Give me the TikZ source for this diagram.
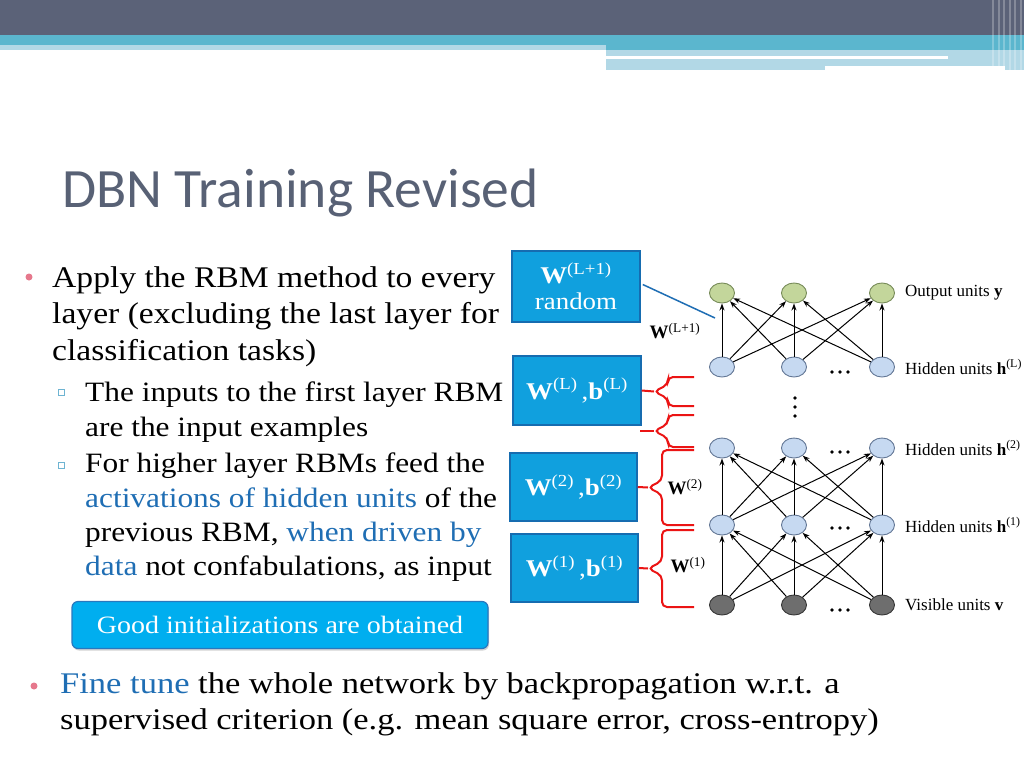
\documentclass[tikz,border=0pt]{standalone}
\usepackage{fontspec}
\setmainfont{Liberation Serif}[FakeStretch=1.12]
\newfontfamily\titlefont{Carlito}
\newfontfamily\netfont{Liberation Serif}
\newfontfamily\finefont{Liberation Serif}[FakeStretch=1.15]
\usetikzlibrary{arrows.meta,shapes.geometric,shadows}

\definecolor{banddark}{RGB}{91,98,120}
\definecolor{bandteal}{RGB}{91,182,206}
\definecolor{bandlight}{RGB}{178,216,230}
\definecolor{titlecol}{RGB}{88,97,117}
\definecolor{bluetext}{RGB}{31,110,180}
\definecolor{bulletpink}{RGB}{230,120,140}
\definecolor{subsq}{RGB}{110,180,210}
\definecolor{boxfill}{RGB}{16,160,222}
\definecolor{boxdraw}{RGB}{22,108,176}
\definecolor{btnfill}{RGB}{0,174,239}
\definecolor{btndraw}{RGB}{40,120,190}
\definecolor{outgreen}{RGB}{195,214,155}
\definecolor{outdraw}{RGB}{120,140,90}
\definecolor{hidfill}{RGB}{198,217,241}
\definecolor{hiddraw}{RGB}{100,120,150}
\definecolor{visfill}{RGB}{110,110,110}
\definecolor{visdraw}{RGB}{55,55,55}
\definecolor{bracered}{RGB}{235,20,20}

% red brace: spine x, top y, bottom y, tip x, tip name
\newcommand{\redbrace}[5]{%
  \coordinate (#5) at (#4,{(#2+#3)/2});
  \draw[bracered,line width=2pt,rounded corners=5pt]
    (694,#2) -- (#1,#2) -- (#1,{(#2+#3)/2-7}) -- (#5)
    -- (#1,{(#2+#3)/2+7}) -- (#1,#3) -- (694,#3);
}

\begin{document}
\begin{tikzpicture}[x=1pt,y=-1pt,
  unit/.style={ellipse,line width=0.9pt,minimum width=25pt,minimum height=20pt,inner sep=0pt},
  outunit/.style={unit,fill=outgreen,draw=outdraw},
  hidunit/.style={unit,fill=hidfill,draw=hiddraw},
  visunit/.style={unit,fill=visfill,draw=visdraw},
  arr/.style={-{Stealth[length=7pt,width=5pt]},line width=1pt},
  wbox/.style={rectangle,fill=boxfill,draw=boxdraw,line width=1.5pt,text=white,
    font=\fontsize{24}{28}\selectfont,align=center,inner sep=0pt},
  netlabel/.style={anchor=west,inner sep=0pt,font=\netfont\fontsize{17}{19}\selectfont},
  wlabel/.style={inner sep=0pt,font=\netfont\fontsize{19}{22}\selectfont},
  bodytext/.style={anchor=base west,align=left,inner sep=0pt,font=\fontsize{30}{36.5}\selectfont},
  subtext/.style={anchor=base west,align=left,inner sep=0pt,font=\fontsize{28}{34.3}\selectfont}]

   \useasboundingbox (0,0) rectangle (1024,768);
   \fill[white] (0,0) rectangle (1024,768);

   % header bands
   \fill[banddark] (0,0) rectangle (1024,35);
   \fill[bandteal] (0,35) rectangle (1024,50);
   \fill[bandlight] (0,45) rectangle (606,50);
   \fill[bandlight] (606,50) rectangle (1024,70);
   \fill[white] (606,56) rectangle (948,59);
   \fill[white] (825,66) rectangle (1005,70);
   \foreach \sx in {992,998,1003,1009,1014,1020}
     \fill[white,opacity=0.25] (\sx,0) rectangle (\sx+2,70);

   % title
   \node[anchor=base west,inner sep=0pt,text=titlecol,
     font=\titlefont\fontsize{55.5}{60}\selectfont] (title) at (62,207) {DBN Training Revised};

   % bullets (anchored at the last line's baseline)
   \fill[bulletpink] (29,277) circle (3.5pt);
   \node[bodytext] (apply) at (52,360) {Apply the RBM method to every\\layer (excluding the last layer for\\classification tasks)};
   \draw[subsq,line width=0.8pt] (58,389) rectangle (64,395);
   \node[subtext] (inputs) at (85,436) {The inputs to the first layer RBM\\are the input examples};
   \draw[subsq,line width=0.8pt] (58,462) rectangle (64,468);
   \node[subtext] (higher) at (85,575.6) {For higher layer RBMs feed the\\\textcolor{bluetext}{activations of hidden units} of the\\previous RBM, \textcolor{bluetext}{when driven by}\\\textcolor{bluetext}{data} not confabulations, as input};

   \node[rectangle,rounded corners=6pt,fill=btnfill,draw=btndraw,line width=1.2pt,
     drop shadow={opacity=0.35,shadow xshift=1pt,shadow yshift=-2pt},
     minimum width=416pt,minimum height=47pt,text=white,
     font=\fontsize{25}{28}\selectfont] (good) at (280,625) {Good initializations are obtained};

   \fill[bulletpink] (34,686) circle (3.5pt);
   \node[anchor=base west,align=left,inner sep=0pt,font=\finefont\fontsize{30}{36}\selectfont] (fine) at (60,729)
     {\textcolor{bluetext}{Fine tune} the whole network by backpropagation w.r.t. a\\supervised criterion (e.g. mean square error, cross-entropy)};

   % weight boxes
   \node[wbox,minimum width=128pt,minimum height=71pt] (wrand) at (576,286.5) {\textbf{W}\textsuperscript{(L+1)}\\[-2pt]random};
   \node[wbox,minimum width=128pt,minimum height=69pt] (wL) at (577,390.5) {\textbf{W}\textsuperscript{(L)}\,,\textbf{b}\textsuperscript{(L)}};
   \node[wbox,minimum width=127pt,minimum height=68pt] (wtwo) at (573.5,487) {\textbf{W}\textsuperscript{(2)}\,,\textbf{b}\textsuperscript{(2)}};
   \node[wbox,minimum width=127pt,minimum height=68pt] (wone) at (574.5,568) {\textbf{W}\textsuperscript{(1)}\,,\textbf{b}\textsuperscript{(1)}};

   % network
   \foreach \row/\yy/\st in {out/293/outunit,hl/367/hidunit,hb/448/hidunit,ha/525/hidunit,vis/605/visunit}
     \foreach \i/\xx in {1/722,2/794,3/882}
       \node[\st] (\row\i) at (\xx,\yy) {};
   \foreach \lo/\up in {vis/ha,ha/hb,hl/out}
     \foreach \i in {1,2,3}
       \foreach \j in {1,2,3}
         \draw[arr] (\lo\i) -- (\up\j);

   \foreach \row/\yy in {hl/372,hb/452,ha/528,vis/610}
     \foreach \k/\dx in {a/832,b/840,c/848}
       \fill (\dx,\yy) circle (1.8pt);
   \foreach \yy in {398,407,416}
     \fill (795,\yy) circle (1.8pt);

   \node[netlabel] (lout) at (905,293) {Output units \textbf{y}};
   \node[netlabel] (lhl) at (905,367) {Hidden units \textbf{h}\textsuperscript{(L)}};
   \node[netlabel] (lhb) at (905,448) {Hidden units \textbf{h}\textsuperscript{(2)}};
   \node[netlabel] (lha) at (905,525) {Hidden units \textbf{h}\textsuperscript{(1)}};
   \node[netlabel] (lvis) at (905,605) {Visible units \textbf{v}};

   % connectors and braces
   \coordinate (wend) at (715,318);
   \draw[bluetext,line width=1.5pt] (wrand.east) ++(2,-2) -- (wend);
   \node[wlabel] (wlabtop) at (675,331) {\textbf{W}\textsuperscript{(L+1)}};

   \redbrace{668}{377}{406}{654}{tipL}
   \draw[bracered,line width=2pt] (wL.east) -- (tipL);
   \redbrace{668}{415}{447}{654}{tipM}
   \coordinate (loose) at (640,431);
   \draw[bracered,line width=2pt] (loose) -- (tipM);
   \redbrace{662}{450}{525}{648}{tipTwo}
   \draw[bracered,line width=2pt] (wtwo.east) -- (tipTwo);
   \redbrace{662}{530}{607}{648}{tipOne}
   \draw[bracered,line width=2pt] (wone.east) -- (tipOne);

   \node[wlabel] (wlabtwo) at (685,487) {\textbf{W}\textsuperscript{(2)}};
   \node[wlabel] (wlabone) at (688,565) {\textbf{W}\textsuperscript{(1)}};

\end{tikzpicture}
\end{document}
